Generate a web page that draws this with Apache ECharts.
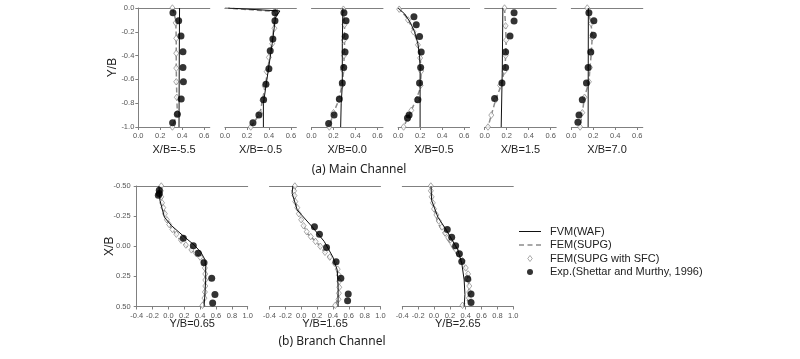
<!DOCTYPE html>
<html><head><meta charset="utf-8">
<script src="https://cdn.jsdelivr.net/npm/echarts@6/dist/echarts.min.js"></script>
<style>html,body{margin:0;padding:0;background:#fff}#c{width:800px;height:359px}</style>
</head><body><div id="c"></div>
<script>
// ---------- labels & ticks ----------
const mainStations = ['X/B=-5.5', 'X/B=-0.5', 'X/B=0.0', 'X/B=0.5', 'X/B=1.5', 'X/B=7.0'];
const branchStations = ['Y/B=0.65', 'Y/B=1.65', 'Y/B=2.65'];
const mainXTicks = [0, 0.2, 0.4, 0.6];
const mainYTicks = [0, -0.2, -0.4, -0.6, -0.8, -1.0];
const branchXTicks = [-0.4, -0.2, 0, 0.2, 0.4, 0.6, 0.8, 1.0];
const branchYTicks = [-0.5, -0.25, 0, 0.25, 0.5];
const seriesNames = ['FVM(WAF)', 'FEM(SUPG)', 'FEM(SUPG with SFC)', 'Exp.(Shettar and Murthy, 1996)'];

// ---------- (a) main channel, [x-velocity, Y/B] ----------
const main1Fvm = [[0.375,0],[0.372,-0.5],[0.37,-1.0]];
const main1Fem = [[0.31,0],[0.34,-0.1],[0.345,-0.25],[0.345,-0.5],[0.35,-0.75],[0.355,-0.88],[0.31,-1.0]];
const main1Sfc = [[0.31,0],[0.34,-0.125],[0.345,-0.255],[0.345,-0.38],[0.345,-0.505],[0.345,-0.62],[0.35,-0.75],[0.355,-0.885],[0.31,-1.0]];
const main1Exp = [[0.315,-0.04],[0.367,-0.107],[0.388,-0.235],[0.406,-0.367],[0.406,-0.5],[0.41,-0.62],[0.39,-0.765],[0.355,-0.893],[0.312,-0.964]];

const main2Fvm = [[0.03,0],[0.5,-0.025],[0.46,-0.08],[0.43,-0.3],[0.39,-0.55],[0.355,-0.77],[0.35,-0.8],[0.35,-1.0]];
const main2Fem = [[0.0,0],[0.48,-0.03],[0.455,-0.07],[0.43,-0.28],[0.4,-0.45],[0.37,-0.64],[0.34,-0.78],[0.32,-0.885],[0.235,-1.0]];
const main2Sfc = [[0.47,-0.03],[0.45,-0.17],[0.43,-0.3],[0.4,-0.415],[0.38,-0.535],[0.36,-0.655],[0.34,-0.775],[0.32,-0.885],[0.235,-1.0]];
const main2Exp = [[0.455,-0.04],[0.455,-0.107],[0.436,-0.26],[0.412,-0.36],[0.4,-0.51],[0.373,-0.64],[0.352,-0.77],[0.309,-0.9],[0.255,-0.964]];

const main3Fvm = [[0.285,0],[0.28,-0.3],[0.28,-0.65],[0.27,-0.8],[0.265,-1.0]];
const main3Fem = [[0.29,0],[0.3,-0.15],[0.3,-0.35],[0.29,-0.55],[0.276,-0.65],[0.25,-0.77],[0.2,-0.88],[0.16,-1.0]];
const main3Sfc = [[0.29,-0.01],[0.3,-0.14],[0.295,-0.27],[0.295,-0.4],[0.285,-0.52],[0.276,-0.65],[0.25,-0.77],[0.2,-0.88],[0.162,-1.0]];
const main3Exp = [[0.295,-0.04],[0.314,-0.107],[0.307,-0.24],[0.305,-0.37],[0.293,-0.5],[0.28,-0.63],[0.253,-0.765],[0.205,-0.9],[0.156,-0.97]];

const main4Fvm = [[0.0,0],[0.06,-0.05],[0.11,-0.12],[0.15,-0.2],[0.18,-0.3],[0.195,-0.4],[0.2,-0.5],[0.2,-1.0]];
const main4Fem = [[0.0,0],[0.07,-0.07],[0.12,-0.15],[0.17,-0.27],[0.2,-0.4],[0.21,-0.55],[0.2,-0.68],[0.15,-0.8],[0.09,-0.92],[0.05,-1.0]];
const main4Sfc = [[0.01,-0.01],[0.09,-0.1],[0.14,-0.2],[0.18,-0.31],[0.2,-0.42],[0.21,-0.53],[0.205,-0.65],[0.17,-0.77],[0.12,-0.86],[0.09,-0.93],[0.05,-1.0]];
const main4Exp = [[0.144,-0.073],[0.165,-0.14],[0.195,-0.24],[0.21,-0.37],[0.205,-0.5],[0.195,-0.63],[0.18,-0.77],[0.1,-0.9],[0.085,-0.925]];

const main5Fvm = [[0.165,0],[0.16,-0.5],[0.15,-1.0]];
const main5Fem = [[0.18,0],[0.19,-0.15],[0.195,-0.3],[0.185,-0.5],[0.15,-0.65],[0.1,-0.77],[0.06,-0.9],[0.03,-1.0]];
const main5Sfc = [[0.18,0],[0.19,-0.15],[0.195,-0.27],[0.19,-0.4],[0.18,-0.53],[0.14,-0.65],[0.1,-0.77],[0.06,-0.9],[0.03,-1.0]];
const main5Exp = [[0.267,-0.04],[0.267,-0.11],[0.23,-0.235],[0.19,-0.37],[0.19,-0.5],[0.157,-0.63],[0.09,-0.76]];

const main6Fvm = [[0.155,0],[0.153,-1.0]];
const main6Fem = [[0.145,0],[0.18,-0.13],[0.19,-0.25],[0.18,-0.4],[0.17,-0.5],[0.16,-0.62],[0.12,-0.75],[0.1,-0.88],[0.08,-1.0]];
const main6Sfc = [[0.145,0],[0.18,-0.13],[0.19,-0.25],[0.18,-0.38],[0.17,-0.5],[0.16,-0.62],[0.12,-0.75],[0.1,-0.88],[0.08,-1.0]];
const main6Exp = [[0.16,-0.04],[0.205,-0.107],[0.2,-0.23],[0.177,-0.37],[0.153,-0.5],[0.138,-0.63],[0.1,-0.77],[0.07,-0.9],[0.06,-0.96]];

// ---------- (b) branch channel, [velocity, X/B] ----------
const branch1Fvm = [[-0.12,-0.5],[-0.107,-0.38],[-0.05,-0.24],[0.04,-0.17],[0.18,-0.09],[0.325,-0.01],[0.41,0.05],[0.46,0.11],[0.47,0.17],[0.47,0.28],[0.46,0.4],[0.45,0.5]];
const branch1Fem = [[-0.09,-0.5],[-0.08,-0.36],[-0.02,-0.22],[0.04,-0.15],[0.16,-0.04],[0.27,0.025],[0.4,0.09],[0.46,0.17],[0.465,0.28],[0.46,0.4],[0.43,0.5]];
const branch1Sfc = [[-0.09,-0.5],[-0.095,-0.46],[-0.09,-0.41],[-0.08,-0.36],[-0.065,-0.32],[-0.045,-0.27],[-0.02,-0.22],[0.01,-0.18],[0.05,-0.14],[0.1,-0.1],[0.16,-0.05],[0.22,-0.01],[0.29,0.03],[0.35,0.06],[0.4,0.09],[0.44,0.13],[0.46,0.18],[0.465,0.23],[0.465,0.28],[0.465,0.33],[0.46,0.38],[0.455,0.43],[0.43,0.49]];
const branch1Exp = [[-0.115,-0.464],[-0.115,-0.437],[-0.127,-0.423],[0.188,-0.066],[0.314,-0.005],[0.377,0.058],[0.449,0.136],[0.546,0.266],[0.587,0.4],[0.558,0.47]];

const branch2Fvm = [[-0.106,-0.5],[-0.115,-0.44],[-0.05,-0.3],[0.14,-0.16],[0.29,-0.04],[0.4,0.09],[0.455,0.2],[0.465,0.34],[0.465,0.5]];
const branch2Fem = [[-0.08,-0.5],[-0.08,-0.38],[-0.01,-0.24],[0.07,-0.11],[0.2,-0.03],[0.32,0.07],[0.44,0.17],[0.475,0.28],[0.475,0.39],[0.43,0.5]];
const branch2Sfc = [[-0.08,-0.5],[-0.09,-0.46],[-0.085,-0.42],[-0.075,-0.37],[-0.05,-0.32],[-0.03,-0.27],[0.0,-0.22],[0.03,-0.17],[0.07,-0.12],[0.12,-0.08],[0.18,-0.04],[0.24,0.0],[0.3,0.05],[0.36,0.09],[0.42,0.14],[0.46,0.19],[0.475,0.24],[0.48,0.29],[0.48,0.34],[0.475,0.39],[0.47,0.44],[0.43,0.49]];
const branch2Exp = [[0.167,-0.161],[0.23,-0.1],[0.319,0.01],[0.44,0.128],[0.5,0.265],[0.593,0.397],[0.585,0.452]];

const branch3Fvm = [[-0.038,-0.5],[-0.03,-0.38],[0.05,-0.24],[0.16,-0.13],[0.3,0.03],[0.35,0.14],[0.38,0.28],[0.39,0.4],[0.38,0.5]];
const branch3Fem = [[-0.04,-0.5],[-0.01,-0.34],[0.05,-0.19],[0.15,-0.08],[0.26,0.04],[0.36,0.13],[0.42,0.22],[0.44,0.33],[0.44,0.44],[0.35,0.5]];
const branch3Sfc = [[-0.04,-0.5],[-0.04,-0.46],[-0.03,-0.41],[-0.015,-0.36],[0.0,-0.31],[0.03,-0.26],[0.06,-0.21],[0.1,-0.16],[0.14,-0.11],[0.18,-0.07],[0.23,-0.02],[0.28,0.03],[0.32,0.07],[0.36,0.12],[0.4,0.18],[0.43,0.23],[0.44,0.28],[0.445,0.33],[0.445,0.38],[0.44,0.43],[0.36,0.49]];
const branch3Exp = [[0.167,-0.14],[0.223,-0.074],[0.273,-0.005],[0.32,0.063],[0.35,0.127],[0.425,0.27],[0.467,0.397],[0.467,0.466]];

const mainPanels = [
  [main1Fvm, main1Fem, main1Sfc, main1Exp],
  [main2Fvm, main2Fem, main2Sfc, main2Exp],
  [main3Fvm, main3Fem, main3Sfc, main3Exp],
  [main4Fvm, main4Fem, main4Sfc, main4Exp],
  [main5Fvm, main5Fem, main5Sfc, main5Exp],
  [main6Fvm, main6Fem, main6Sfc, main6Exp]
];
const branchPanels = [
  [branch1Fvm, branch1Fem, branch1Sfc, branch1Exp],
  [branch2Fvm, branch2Fem, branch2Sfc, branch2Exp],
  [branch3Fvm, branch3Fem, branch3Sfc, branch3Exp]
];

// ---------- build ----------
const AX = '#808080';
const FONT = '"Liberation Sans", Arial, sans-serif';
const grids = [], xAxes = [], yAxes = [], series = [];

function addSeries(gi, xi, data) {
  const [fvm, fem, sfc, exp] = data;
  series.push({ name: seriesNames[1], type: 'line', xAxisIndex: xi, yAxisIndex: gi, data: fem,
    symbol: 'none', z: 2, lineStyle: { color: '#8c8c8c', width: 1.5, type: [5, 3] }, itemStyle: { color: '#8c8c8c' } });
  series.push({ name: seriesNames[2], type: 'scatter', xAxisIndex: xi, yAxisIndex: gi, data: sfc,
    symbol: 'diamond', symbolSize: [5, 6.5], z: 3, itemStyle: { color: '#fff', borderColor: '#7a7a7a', borderWidth: 0.8 } });
  series.push({ name: seriesNames[0], type: 'line', xAxisIndex: xi, yAxisIndex: gi, data: fvm,
    symbol: 'none', z: 4, lineStyle: { color: '#111', width: 1 }, itemStyle: { color: '#111' } });
  series.push({ name: seriesNames[3], type: 'scatter', xAxisIndex: xi, yAxisIndex: gi, data: exp,
    symbol: 'circle', symbolSize: 7, z: 5, itemStyle: { color: '#000' } });
}

function topLine(gi) {
  return { type: 'value', gridIndex: gi, position: 'top', min: 0, max: 1,
    axisLine: { show: true, onZero: false, lineStyle: { color: AX, width: 1 } },
    axisTick: { show: false }, axisLabel: { show: false }, splitLine: { show: false } };
}

mainPanels.forEach((p, i) => {
  const gi = grids.length;
  grids.push({ left: 138.3 + 86.6 * i, top: 8, width: 71.5, height: 119, outerBoundsMode: 'none' });
  const xi = xAxes.length;
  xAxes.push({ type: 'value', gridIndex: gi, position: 'bottom', min: 0, max: 0.65,
    name: mainStations[i], nameLocation: 'middle', nameGap: 17, nameMoveOverlap: false,
    nameTextStyle: { fontSize: 11, color: '#222', fontFamily: FONT },
    axisLine: { show: true, onZero: false, lineStyle: { color: AX, width: 1 } },
    axisTick: { show: true, length: 3, customValues: mainXTicks, lineStyle: { color: AX } },
    axisLabel: { customValues: mainXTicks, formatter: v => v.toFixed(1), fontSize: 7.5, color: '#555', margin: 5, fontFamily: FONT },
    splitLine: { show: false } });
  xAxes.push(topLine(gi));
  yAxes.push({ type: 'value', gridIndex: gi, min: -1, max: 0, show: i === 0,
    name: i === 0 ? 'Y/B' : '', nameLocation: 'middle', nameGap: 19.5, nameRotate: 90, nameMoveOverlap: false,
    nameTextStyle: { fontSize: 12, color: '#222', fontFamily: FONT },
    axisLine: { show: true, onZero: false, lineStyle: { color: AX, width: 1 } },
    axisTick: { show: true, length: 3, customValues: mainYTicks, lineStyle: { color: AX } },
    axisLabel: { customValues: mainYTicks, formatter: v => v.toFixed(1), fontSize: 7.5, color: '#555', margin: 4, fontFamily: FONT },
    splitLine: { show: false } });
  addSeries(gi, xi, p);
});

branchPanels.forEach((p, i) => {
  const gi = grids.length;
  grids.push({ left: 136.7 + 132.8 * i, top: 186, width: 111, height: 120.5, outerBoundsMode: 'none' });
  const xi = xAxes.length;
  xAxes.push({ type: 'value', gridIndex: gi, position: 'bottom', min: -0.4, max: 1.0, interval: 0.2,
    name: branchStations[i], nameLocation: 'middle', nameGap: 12, nameMoveOverlap: false,
    nameTextStyle: { fontSize: 11, color: '#222', fontFamily: FONT },
    axisLine: { show: true, onZero: false, lineStyle: { color: AX, width: 1 } },
    axisTick: { show: true, length: 3, customValues: branchXTicks, lineStyle: { color: AX } },
    axisLabel: { customValues: branchXTicks, formatter: v => v.toFixed(1), fontSize: 7.5, color: '#555', margin: 5, fontFamily: FONT },
    splitLine: { show: false } });
  xAxes.push(topLine(gi));
  yAxes.push({ type: 'value', gridIndex: gi, min: -0.5, max: 0.5, interval: 0.25, inverse: true, show: i === 0,
    name: i === 0 ? 'X/B' : '', nameLocation: 'middle', nameGap: 21.5, nameRotate: 90, nameMoveOverlap: false,
    nameTextStyle: { fontSize: 12, color: '#222', fontFamily: FONT },
    axisLine: { show: true, onZero: false, lineStyle: { color: AX, width: 1 } },
    axisTick: { show: true, length: 3, customValues: branchYTicks, lineStyle: { color: AX } },
    axisLabel: { customValues: branchYTicks, formatter: v => v.toFixed(2), fontSize: 7.5, color: '#555', margin: 6, fontFamily: FONT },
    splitLine: { show: false } });
  addSeries(gi, xi, p);
});

const chart = echarts.init(document.getElementById('c'), null, { renderer: 'canvas' });
chart.setOption({
  animation: false,
  backgroundColor: '#fff',
  grid: grids, xAxis: xAxes, yAxis: yAxes, series,
  legend: {
    data: [
      { name: seriesNames[0], icon: 'path://M0,0h22v1h-22z', itemStyle: { color: '#111' } },
      { name: seriesNames[1], icon: 'path://M0,0h5v1.4h-5z M8.5,0h5v1.4h-5z M17,0h5v1.4h-5z', itemStyle: { color: '#8c8c8c' } },
      { name: seriesNames[2], icon: 'path://M3,0L6,4L3,8L0,4Z', itemStyle: { color: '#fff', borderColor: '#7a7a7a', borderWidth: 0.8 } },
      { name: seriesNames[3], icon: 'circle', itemStyle: { color: '#000' } }
    ],
    orient: 'vertical', left: 514, top: 221,
    itemWidth: 22, itemHeight: 6, itemGap: 2.5,
    textStyle: { fontSize: 11, color: '#222', fontFamily: FONT, padding: [0, 0, 0, 4] }
  },
  graphic: [
    { type: 'text', x: 359, y: 170, style: { text: '(a) Main Channel', font: '12px "Noto Sans", sans-serif', fill: '#222', align: 'center', verticalAlign: 'middle' } },
    { type: 'text', x: 332, y: 342, style: { text: '(b) Branch Channel', font: '12px "Noto Sans", sans-serif', fill: '#222', align: 'center', verticalAlign: 'middle' } }
  ]
});
</script></body></html>
